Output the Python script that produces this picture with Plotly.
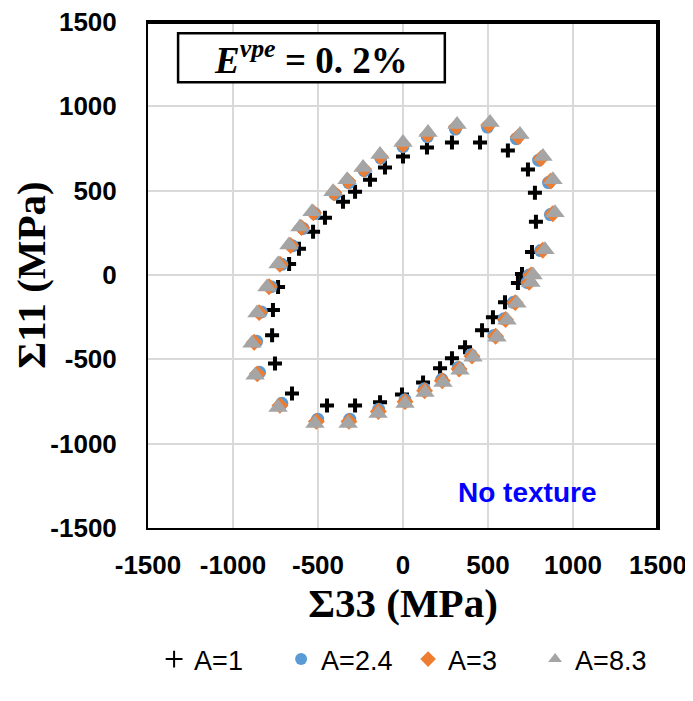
import plotly.graph_objects as go

# A=1 (crosses)
a1_x = [0, 141, 288, 453, 617, 735, 776, 782, 759, 700, 676, 600, 529, 465, 365, 288, 218, 118,
        -6, -135, -282, -447, -653, -753, -770, -765, -735, -670, -612, -529, -459, -353, -282, -194, -106]
a1_y = [702, 756, 785, 785, 738, 625, 488, 315, 137, 6, -48, -161, -250, -327, -428, -494, -553, -637,
        -708, -755, -773, -773, -702, -524, -357, -208, -71, 65, 155, 256, 339, 434, 494, 565, 637]

# A=2.4 (circles)
a24_x = [0, 143, 308, 497, 667, 798, 856, 867, 810, 742, 730, 650, 594, 536, 400, 325, 228, 125,
         12, -143, -313, -502, -713, -844, -861, -833, -776, -713, -651, -588, -519, -400, -319, -228, -131]
a24_y = [761, 820, 865, 877, 808, 681, 548, 358, 145, 0, -44, -162, -260, -358, -473, -548, -618, -675,
         -739, -796, -855, -855, -761, -577, -393, -219, -69, 63, 173, 276, 364, 479, 548, 618, 693]

# A=3 (diamonds)
a3_x = [0, 145, 313, 504, 678, 811, 869, 881, 822, 754, 742, 660, 603, 545, 406, 330, 231, 127,
        12, -145, -318, -510, -724, -857, -875, -846, -788, -724, -661, -597, -527, -406, -324, -231, -133]
a3_y = [773, 832, 879, 890, 820, 691, 557, 363, 147, 0, -44, -164, -264, -363, -481, -557, -627, -686,
        -751, -809, -868, -868, -773, -586, -399, -223, -70, 64, 175, 281, 369, 487, 557, 627, 703]

# A=8.3 (triangles)
a83_x = [0, 147, 318, 512, 688, 823, 882, 894, 835, 765, 753, 670, 612, 553, 412, 335, 235, 129,
         12, -147, -323, -518, -735, -870, -888, -859, -800, -735, -671, -606, -535, -412, -329, -235, -135]
a83_y = [785, 845, 892, 904, 833, 702, 565, 369, 149, 0, -45, -167, -268, -369, -488, -565, -637, -696,
         -762, -821, -881, -881, -785, -595, -405, -226, -71, 65, 178, 285, 375, 494, 565, 637, 714]

tick_vals = [-1500, -1000, -500, 0, 500, 1000, 1500]
tick_text = ["-1500", "-1000", "-500", "0", "500", "1000", "1500"]

fig = go.Figure()
fig.add_trace(go.Scatter(x=a1_x, y=a1_y, mode="markers", name="A=1",
                         marker=dict(symbol="cross-thin", size=10, color="black",
                                     line=dict(color="black", width=4))))
fig.add_trace(go.Scatter(x=a24_x, y=a24_y, mode="markers", name="A=2.4",
                         marker=dict(symbol="circle", size=13, color="#5B9BD5", line=dict(width=0))))
fig.add_trace(go.Scatter(x=a3_x, y=a3_y, mode="markers", name="A=3",
                         marker=dict(symbol="diamond", size=13, color="#ED7D31", line=dict(width=0))))
fig.add_trace(go.Scatter(x=a83_x, y=a83_y, mode="markers", name="A=8.3",
                         marker=dict(symbol="triangle-up", size=17, color="#A5A5A5", line=dict(width=0))))

axis_common = dict(range=[-1500, 1500], tickvals=tick_vals, ticktext=tick_text,
                   showgrid=True, gridcolor="#D9D9D9", gridwidth=1.5, automargin=False,
                   zeroline=False, showline=True, mirror=True, linecolor="black", linewidth=2,
                   ticks="outside", tickcolor="rgba(0,0,0,0)", ticklabeloverflow="allow",
                   tickfont=dict(family="Liberation Sans", size=26, color="black", weight="bold"))

fig.update_xaxes(**axis_common, ticklen=13,
                 title=dict(text="Σ33 (MPa)", standoff=8,
                            font=dict(family="Liberation Serif", size=41, color="black", weight="bold")))
fig.update_yaxes(**axis_common, ticklen=24,
                 title=dict(text="Σ11 (MPa)", standoff=8,
                            font=dict(family="Liberation Serif", size=41, color="black", weight="bold")))

# frame accents (thicker top/right)
fig.add_shape(type="line", xref="paper", yref="paper", x0=0, x1=1, y0=1, y1=1,
              line=dict(color="black", width=4))
fig.add_shape(type="line", xref="paper", yref="paper", x0=1, x1=1, y0=0, y1=1,
              line=dict(color="black", width=4))

# Annotation box
fig.add_shape(type="rect", xref="paper", yref="paper", x0=0.059, x1=0.582, y0=0.881, y1=0.978,
              line=dict(color="black", width=2.5), fillcolor="white")
fig.add_annotation(xref="paper", yref="paper", x=0.32, y=0.929, xanchor="center", yanchor="middle",
                   showarrow=False,
                   text="<b><i>E</i><sup><i>vpe</i></sup> = 0. 2%</b>",
                   font=dict(family="Liberation Serif", size=37, color="black"))
fig.add_annotation(xref="paper", yref="paper", x=0.743, y=0.071, xanchor="center", yanchor="middle",
                   showarrow=False,
                   text="<b>No texture</b>",
                   font=dict(family="Liberation Sans", size=28, color="#0000FF"))

fig.update_layout(
    width=685, height=693,
    margin=dict(l=140, r=35, t=14, b=173, autoexpand=False),
    plot_bgcolor="white", paper_bgcolor="white",
    showlegend=True,
    legend=dict(orientation="h", x=0.51, xanchor="center", y=-0.26, yanchor="middle",
                font=dict(family="Liberation Sans", size=27, color="black"),
                entrywidth=82, entrywidthmode="pixels", itemsizing="constant",
                bgcolor="rgba(0,0,0,0)"),
)

fig.write_html("out.html")
